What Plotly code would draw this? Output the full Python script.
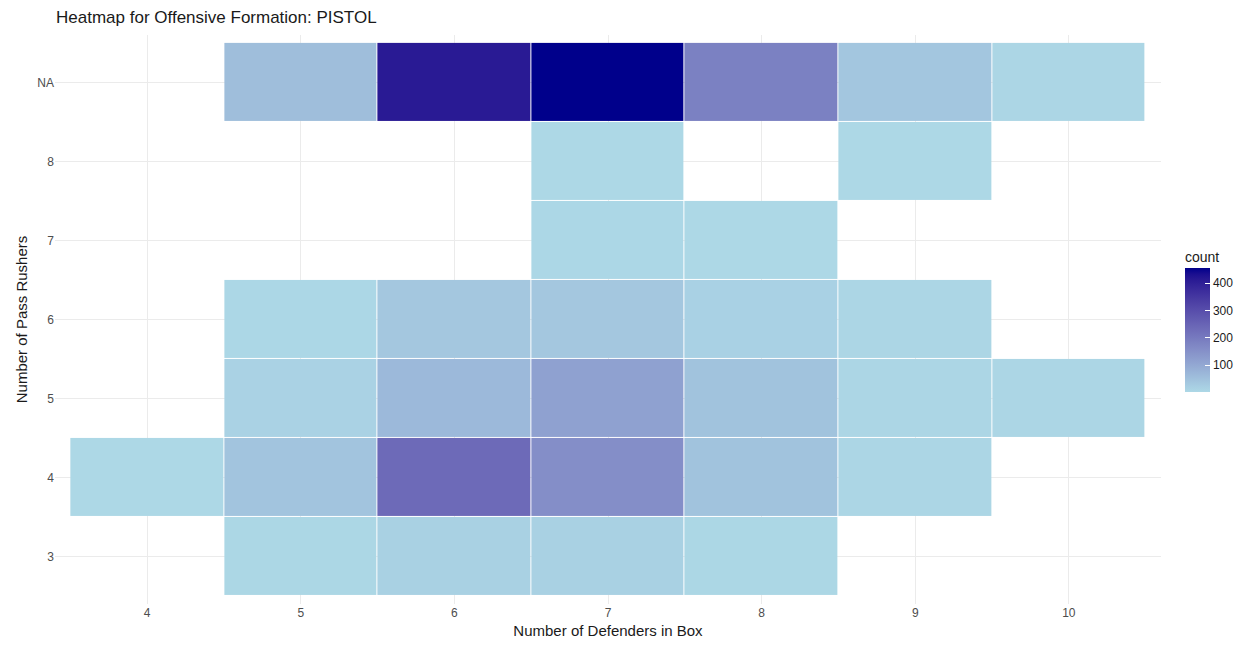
import numpy as np
import plotly.graph_objects as go

# ---- data ----
defenders = [4, 5, 6, 7, 8, 9, 10]
rushers = ["3", "4", "5", "6", "7", "8", "NA"]
# counts per rusher row (index order of `rushers`), per defender column
counts = {
    "3":  [None, 4, 16, 16, 4, None, None],
    "4":  [2, 42, 235, 155, 45, 6, None],
    "5":  [None, 14, 65, 115, 45, 6, 5],
    "6":  [None, 3, 35, 35, 15, 6, None],
    "7":  [None, None, None, 3, 2, None, None],
    "8":  [None, None, None, 2, None, 1, None],
    "NA": [None, 55, 410, 454, 185, 38, 5],
}
colorbar_ticks = [100, 200, 300, 400]
title_text = "Heatmap for Offensive Formation: PISTOL"
legend_title = "count"


# ---- Lab colour interpolation (like ggplot's scale_fill_gradient) ----
def srgb_to_lab(rgb):
    c = np.array(rgb, dtype=float) / 255.0
    c = np.where(c <= 0.04045, c / 12.92, ((c + 0.055) / 1.055) ** 2.4)
    M = np.array([[0.4124, 0.3576, 0.1805],
                  [0.2126, 0.7152, 0.0722],
                  [0.0193, 0.1192, 0.9505]])
    xyz = M @ c
    xyz = xyz / np.array([0.95047, 1.0, 1.08883])
    f = np.where(xyz > 216 / 24389, np.cbrt(xyz), (24389 / 27 * xyz + 16) / 116)
    return np.array([116 * f[1] - 16, 500 * (f[0] - f[1]), 200 * (f[1] - f[2])])


def lab_to_srgb(lab):
    L, a, b = lab
    fy = (L + 16) / 116
    fx = fy + a / 500
    fz = fy - b / 200
    def finv(t):
        return t ** 3 if t ** 3 > 216 / 24389 else (116 * t - 16) / (24389 / 27)
    xyz = np.array([finv(fx), finv(fy), finv(fz)]) * np.array([0.95047, 1.0, 1.08883])
    Minv = np.array([[3.2406, -1.5372, -0.4986],
                     [-0.9689, 1.8758, 0.0415],
                     [0.0557, -0.2040, 1.0570]])
    c = Minv @ xyz
    c = np.where(c <= 0.0031308, 12.92 * c, 1.055 * np.clip(c, 0, None) ** (1 / 2.4) - 0.055)
    c = np.clip(c, 0, 1) * 255
    return "rgb(%d,%d,%d)" % tuple(np.round(c).astype(int))


low = srgb_to_lab((173, 216, 230))   # lightblue
high = srgb_to_lab((0, 0, 139))      # darkblue
colorscale = [[t, lab_to_srgb(low + (high - low) * t)] for t in np.linspace(0, 1, 21)]

z = [counts[r] for r in rushers]
all_vals = [v for row in z for v in row if v is not None]

W, H = 1238, 646

fig = go.Figure(go.Heatmap(
    x=defenders,
    y=list(range(len(rushers))),
    z=z,
    zmin=min(all_vals),
    zmax=max(all_vals),
    colorscale=colorscale,
    xgap=1,
    ygap=1,
    hoverongaps=False,
    colorbar=dict(
        tickvals=colorbar_ticks,
        ticks="inside",
        ticklen=5,
        tickcolor="white",
        tickfont=dict(size=12, color="#1a1a1a"),
        outlinewidth=0,
        thickness=25,
        lenmode="pixels",
        len=124,
        xref="container",
        x=1185 / W,
        xanchor="left",
        xpad=0,
        yref="container",
        y=1 - 375 / H,
        yanchor="middle",
        ypad=0,
    ),
))

font_family = "Liberation Sans, Arial, sans-serif"
fig.update_layout(
    width=W,
    height=H,
    margin=dict(l=55, r=77, t=35, b=42, autoexpand=False),
    plot_bgcolor="white",
    paper_bgcolor="white",
    font=dict(family=font_family, color="#1a1a1a"),
    title=dict(text=title_text, x=56 / W, xanchor="left", y=1 - 17 / H,
               yanchor="middle", font=dict(size=17, color="#1a1a1a")),
    annotations=[dict(
        text=legend_title, xref="paper", yref="paper",
        x=(1185 - 55) / (W - 55 - 77), y=(H - 42 - 257) / (H - 35 - 42),
        xanchor="left", yanchor="middle", showarrow=False, xshift=-2,
        font=dict(size=14, color="#1a1a1a"),
    )],
)
fig.update_xaxes(
    range=[3.4, 10.6],
    tickvals=defenders,
    ticktext=[str(d) for d in defenders],
    showgrid=True, gridcolor="#ebebeb", gridwidth=1.3,
    zeroline=False, showline=False, ticks="",
    tickfont=dict(size=12, color="#4d4d4d"),
    title=dict(text="Number of Defenders in Box", font=dict(size=15, color="#1a1a1a"), standoff=6),
)
fig.update_yaxes(
    range=[-0.6, len(rushers) - 0.4],
    tickvals=list(range(len(rushers))),
    ticktext=rushers,
    showgrid=True, gridcolor="#ebebeb", gridwidth=1.3,
    zeroline=False, showline=False, ticks="",
    tickfont=dict(size=12, color="#4d4d4d"),
    title=dict(text="Number of Pass Rushers", font=dict(size=15, color="#1a1a1a"), standoff=6),
)

fig.write_html("out.html")
